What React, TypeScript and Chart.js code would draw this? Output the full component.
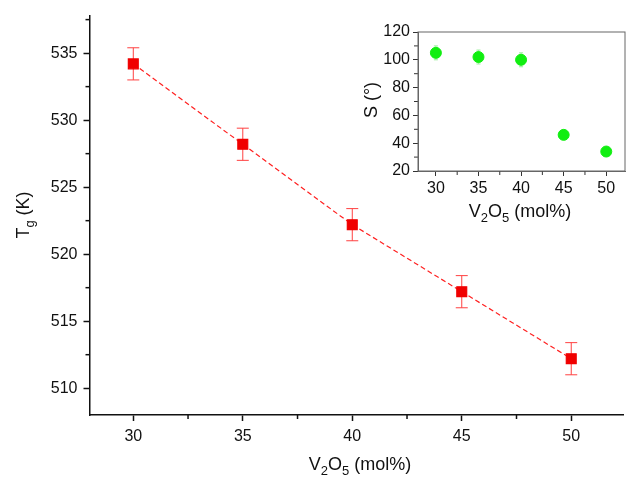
import React, { useEffect, useRef } from "react";
import { Chart, registerables } from "chart.js";
Chart.register(...registerables);

const compositions = [30, 35, 40, 45, 50];
const tgValues = [534.2, 528.2, 522.2, 517.2, 512.2];
const tgErrors = [1.2, 1.2, 1.2, 1.2, 1.2];
const sValues = [105, 102, 100, 46, 34];
const sErrors = [5, 5, 5, 1, 1];

type Part = { t: string; sub?: boolean };
function drawParts(ctx: CanvasRenderingContext2D, parts: Part[], x: number, y: number, size: number) {
  const small = Math.round(size * 0.7);
  let total = 0;
  for (const p of parts) { ctx.font = `${p.sub ? small : size}px "Liberation Sans", Arial`; total += ctx.measureText(p.t).width; }
  let cx = x - total / 2;
  ctx.textBaseline = "middle"; ctx.textAlign = "left"; ctx.fillStyle = "#111";
  for (const p of parts) {
    ctx.font = `${p.sub ? small : size}px "Liberation Sans", Arial`;
    ctx.fillText(p.t, cx, p.sub ? y + size * 0.35 : y);
    cx += ctx.measureText(p.t).width;
  }
}

function makePlugin(opts: { values: number[]; errors: number[]; capColor: string; cap: number; xTitle: [number, number]; yTitle: [number, number]; yParts: Part[]; size: number; box: boolean; xMinorStep: number; yMinorStep: number }) {
  return {
    id: "custom",
    beforeDatasetsDraw(chart: any) {
      const ctx = chart.ctx as CanvasRenderingContext2D;
      const ys = chart.scales.y;
      ctx.save();
      const meta = chart.getDatasetMeta(0);
      ctx.strokeStyle = opts.capColor; ctx.lineWidth = 1;
      meta.data.forEach((pt: any, i: number) => {
        const v = opts.values[i], e = opts.errors[i];
        const y1 = ys.getPixelForValue(v + e), y2 = ys.getPixelForValue(v - e);
        ctx.beginPath();
        ctx.moveTo(pt.x, y1); ctx.lineTo(pt.x, y2);
        ctx.moveTo(pt.x - opts.cap, y1); ctx.lineTo(pt.x + opts.cap, y1);
        ctx.moveTo(pt.x - opts.cap, y2); ctx.lineTo(pt.x + opts.cap, y2);
        ctx.stroke();
      });
      ctx.restore();
    },
    afterDraw(chart: any) {
      const ctx = chart.ctx as CanvasRenderingContext2D;
      const xs = chart.scales.x, ys = chart.scales.y;
      const a = chart.chartArea;
      ctx.save();
      ctx.strokeStyle = opts.box ? "#333" : "#111"; ctx.lineWidth = opts.box ? 1 : 1.5;
      for (let v = Math.ceil(xs.min / opts.xMinorStep) * opts.xMinorStep; v <= xs.max; v += opts.xMinorStep) {
        const px = xs.getPixelForValue(v);
        const major = Math.abs(v / 5 - Math.round(v / 5)) < 1e-6;
        if (!major) { ctx.beginPath(); ctx.moveTo(px, a.bottom); ctx.lineTo(px, a.bottom + 4); ctx.stroke(); }
      }
      for (let v = Math.ceil(ys.min / opts.yMinorStep) * opts.yMinorStep; v <= ys.max; v += opts.yMinorStep) {
        const py = ys.getPixelForValue(v);
        const major = Math.abs(v / (opts.yMinorStep * 2) - Math.round(v / (opts.yMinorStep * 2))) < 1e-6;
        if (!major) { ctx.beginPath(); ctx.moveTo(a.left, py); ctx.lineTo(a.left - 4, py); ctx.stroke(); }
      }
      if (opts.box) {
        ctx.strokeStyle = "#666"; ctx.lineWidth = 1;
        ctx.strokeRect(a.left, a.top, a.right - a.left, a.bottom - a.top);
      }
      drawParts(ctx, [{ t: "V" }, { t: "2", sub: true }, { t: "O" }, { t: "5", sub: true }, { t: " (mol%)" }], opts.xTitle[0], opts.xTitle[1], opts.size);
      ctx.save();
      ctx.translate(opts.yTitle[0], opts.yTitle[1]);
      ctx.rotate(-Math.PI / 2);
      drawParts(ctx, opts.yParts, 0, 0, opts.size);
      ctx.restore();
      ctx.restore();
    },
  };
}

function fixedScales(yWidth: number, xHeight: number) {
  return { y: (s: any) => { s.width = yWidth; }, x: (s: any) => { s.height = xHeight; } };
}

export default function App() {
  const mainRef = useRef<HTMLCanvasElement>(null);
  const insetRef = useRef<HTMLCanvasElement>(null);
  useEffect(() => {
    const tick = { color: "#111", font: { size: 16, family: '"Liberation Sans", Arial' } };
    const tickI = { color: "#111", font: { size: 16, family: '"Liberation Sans", Arial' } };
    const fm = fixedScales(89.5, 69);
    const main = new Chart(mainRef.current!, {
      type: "line",
      data: {
        labels: compositions,
        datasets: [{
          data: compositions.map((c, i) => ({ x: c, y: tgValues[i] })) as any,
          borderColor: "#ff2020", borderWidth: 1.2, borderDash: [5, 3],
          pointStyle: "rect", pointRadius: 7, pointBackgroundColor: "#f00000", pointBorderColor: "#f00000",
        }],
      },
      options: {
        animation: false, responsive: false, events: [],
        layout: { padding: { top: 15, right: 0, left: 0, bottom: 0 } },
        plugins: { legend: { display: false }, tooltip: { enabled: false } },
        scales: {
          x: { type: "linear", min: 28, max: 52.4, afterFit: fm.x, afterBuildTicks: (s: any) => { s.ticks = [30, 35, 40, 45, 50].map(v => ({ value: v })); },
            grid: { drawOnChartArea: false, tickLength: 6, color: "#111", tickWidth: 1.5 }, border: { color: "#111", width: 1.5 }, ticks: { ...tick, padding: 6 } },
          y: { min: 508, max: 537.8, afterFit: fm.y, afterBuildTicks: (s: any) => { s.ticks = [510, 515, 520, 525, 530, 535].map(v => ({ value: v })); },
            grid: { drawOnChartArea: false, tickLength: 6, color: "#111", tickWidth: 1.5 }, border: { color: "#111", width: 1.5 }, ticks: { ...tick, padding: 6 } },
        },
      },
      plugins: [makePlugin({ values: tgValues, errors: tgErrors, capColor: "#ff4040", cap: 6, xTitle: [360, 465], yTitle: [24, 215], size: 18,
        yParts: [{ t: "T" }, { t: "g", sub: true }, { t: " (K)" }], box: false, xMinorStep: 2.5, yMinorStep: 2.5 }) as any],
    });
    const fi = fixedScales(58, 64);
    const inset = new Chart(insetRef.current!, {
      type: "scatter",
      data: {
        datasets: [{
          data: compositions.map((c, i) => ({ x: c, y: sValues[i] })),
          pointRadius: 5.5, pointBackgroundColor: "#11ee11", pointBorderColor: "#11ee11",
        }],
      },
      options: {
        animation: false, responsive: false, events: [],
        layout: { padding: { top: 17, right: 7, left: 0, bottom: 0 } },
        plugins: { legend: { display: false }, tooltip: { enabled: false } },
        scales: {
          x: { type: "linear", min: 27.9, max: 52.2, afterFit: fi.x, afterBuildTicks: (s: any) => { s.ticks = [30, 35, 40, 45, 50].map(v => ({ value: v })); },
            grid: { drawOnChartArea: false, tickLength: 5, color: "#333" }, border: { color: "#666", width: 1 }, ticks: { ...tickI, padding: 3 } },
          y: { min: 20, max: 120, afterFit: fi.y, afterBuildTicks: (s: any) => { s.ticks = [20, 40, 60, 80, 100, 120].map(v => ({ value: v })); },
            grid: { drawOnChartArea: false, tickLength: 5, color: "#333" }, border: { color: "#666", width: 1 }, ticks: { ...tickI, padding: 3 } },
        },
      },
      plugins: [makePlugin({ values: sValues, errors: sErrors, capColor: "#99ee99", cap: 2, xTitle: [160, 197], yTitle: [12, 85], size: 18,
        yParts: [{ t: "S (°)" }], box: true, xMinorStep: 2.5, yMinorStep: 10 }) as any],
    });
    return () => { main.destroy(); inset.destroy(); };
  }, []);
  return (
    <div style={{ position: "absolute", left: 0, top: 0, width: 632, height: 484, background: "#fff" }}>
      <canvas ref={mainRef} width={632} height={484} style={{ position: "absolute", left: 0, top: 0 }} />
      <canvas ref={insetRef} width={272} height={220} style={{ position: "absolute", left: 360, top: 15 }} />
    </div>
  );
}
